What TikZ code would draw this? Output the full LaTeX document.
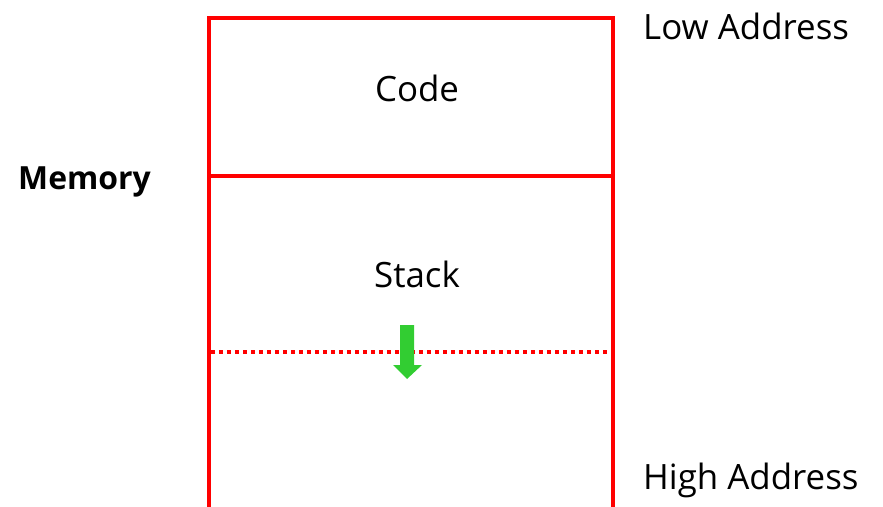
\documentclass[tikz,border=0pt]{standalone}
\usepackage{fontspec}
\setmainfont{Open Sans}
\definecolor{memred}{RGB}{255,0,0}
\definecolor{arrgreen}{RGB}{50,205,50}
\begin{document}
\begin{tikzpicture}[x=1bp,y=-1bp,
  wall/.style={draw=memred,line width=4bp},
  lbl/.style={inner sep=0pt,anchor=base,font=\fontsize{35}{40}\selectfont},
  dotline/.style={draw=memred,line width=4bp,dash pattern=on 4bp off 4bp}]
\useasboundingbox (0,0) rectangle (883,507);
\coordinate (tl) at (209,18);
\coordinate (tr) at (613,18);
\coordinate (bl) at (209,507);
\coordinate (br) at (613,507);
\coordinate (ml) at (209,176);
\coordinate (mr) at (613,176);
\coordinate (dl) at (211,352);
\coordinate (dr) at (613,352);
\draw[wall] (bl) -- (tl) -- (tr) -- (br);
\draw[wall] (ml) -- (mr);
\draw[dotline] (dl) -- (dr);
\fill[arrgreen] (400,325) -- (414,325) -- (414,365) -- (422,365) -- (407,379) -- (393,365) -- (400,365) -- cycle;
\node[lbl] (code) at (417,102) {Code};
\node[lbl] (stack) at (417,288) {Stack};
\node[lbl,font=\fontsize{32}{37}\selectfont\bfseries,anchor=base west] (mem) at (18,190) {Memory};
\node[lbl,anchor=base west] (low) at (643,40) {Low Address};
\node[lbl,anchor=base west] (high) at (643,489) {High Address};
\end{tikzpicture}
\end{document}
